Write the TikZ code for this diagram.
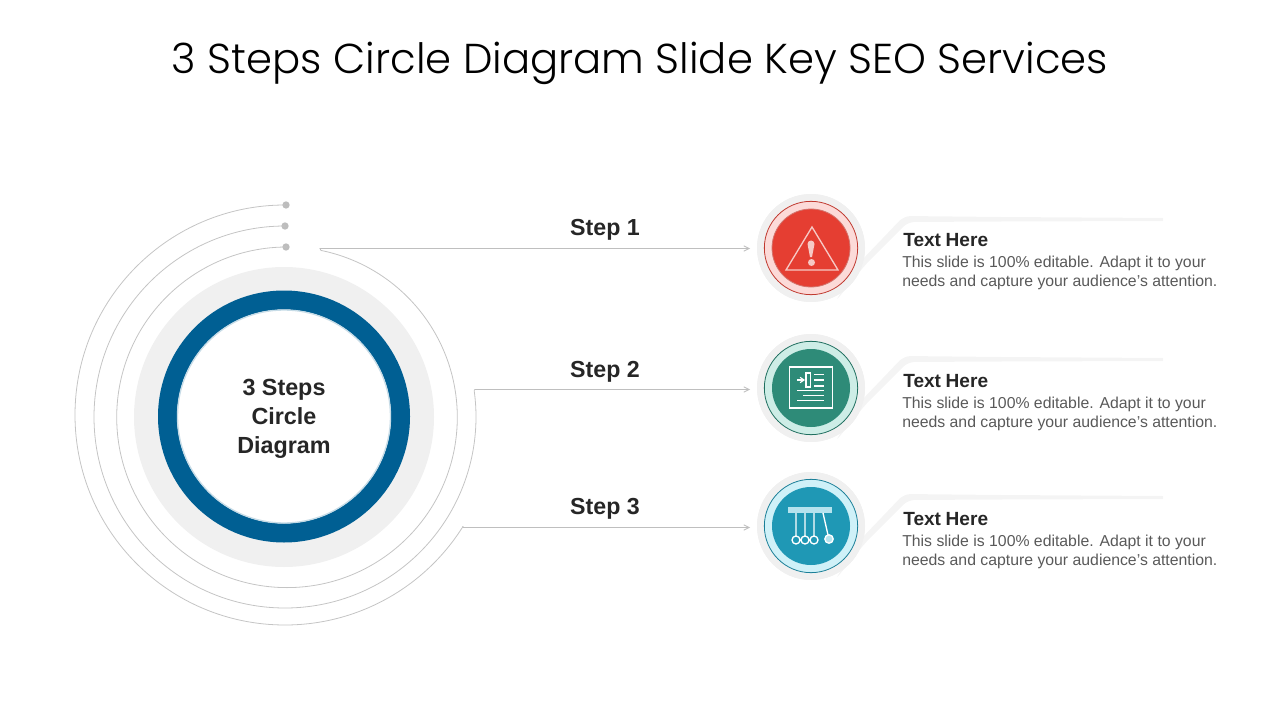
\documentclass[tikz,border=0pt]{standalone}
\usepackage{fontspec}
\setmainfont{Liberation Sans}
\newfontfamily\titlefont{Poppins Light}
\usetikzlibrary{arrows.meta}
\definecolor{arcgray}{HTML}{C4C4C4}
\definecolor{dotgray}{HTML}{BDBDBD}
\definecolor{halo}{HTML}{F0F0F0}
\definecolor{tailgray}{HTML}{F4F4F4}
\definecolor{ringblue}{HTML}{005F93}
\definecolor{inktext}{HTML}{262626}
\definecolor{bodytext}{HTML}{595959}
\definecolor{linegray}{HTML}{BFBFBF}
\definecolor{redfill}{HTML}{E53E32}
\definecolor{redpale}{HTML}{FCDAD8}
\definecolor{redline}{HTML}{C0392F}
\definecolor{redicon}{HTML}{F6C9C5}
\definecolor{greenfill}{HTML}{2E8B78}
\definecolor{greenpale}{HTML}{CDEDE6}
\definecolor{greenline}{HTML}{1F6F5F}
\definecolor{bluefill}{HTML}{1F98B5}
\definecolor{bluepale}{HTML}{CFF1F8}
\definecolor{blueline}{HTML}{1A7F98}
\definecolor{blueicon}{HTML}{B5E3EE}
\tikzset{
  x=0.75pt,y=-0.75pt,
  arcline/.style={draw=arcgray,line width=0.6pt},
  dotnode/.style={circle,fill=dotgray,inner sep=0pt,minimum size=5.5pt},
  haloD/.style={circle,fill=halo,inner sep=0pt,minimum size=81pt},
  paleD/.style={circle,draw=#1,line width=0.6pt,inner sep=0pt,minimum size=70pt},
  coreD/.style={circle,fill=#1,inner sep=0pt,minimum size=58.5pt},
  steplabel/.style={font=\bfseries\fontsize{17.4}{20}\selectfont,text=inktext,inner sep=0pt},
  headtext/.style={font=\bfseries\fontsize{14.3}{17}\selectfont,text=inktext,inner sep=0pt,anchor=west},
  bodylabel/.style={font=\fontsize{11.85}{14.3}\selectfont,text=bodytext,inner sep=0pt,anchor=north west,align=left},
  arrowline/.style={draw=linegray,line width=0.6pt,-{Straight Barb[length=4pt,width=4pt]}},
  callout/.style={fill=tailgray,draw=none},
  iconline/.style={draw=white,line width=1pt},
}
\begin{document}
\begin{tikzpicture}
\useasboundingbox (0,0) rectangle (1280,720);
\node[font=\titlefont\fontsize{31.33}{36}\selectfont,text=black,inner sep=0pt] (title) at (640,63) {3 Steps Circle Diagram Slide Key SEO Services};

% concentric arcs
\node[dotnode] (d1) at (286,205) {};
\node[dotnode] (d2) at (285,226) {};
\node[dotnode] (d3) at (286,247) {};
\draw[arcline] ([xshift=.75pt]d3.center) arc[start angle=-90,delta angle=-348.5,radius=170.3] coordinate (e1);
\draw[arcline] (d2.center) arc[start angle=-90,delta angle=-278,radius=191] coordinate (e2);
\draw[arcline] ([xshift=-.75pt]d1.center) arc[start angle=-90,delta angle=-238,radius=210] coordinate (e3);

% central disc
\node[circle,fill=halo,inner sep=0pt,minimum size=225pt] (discbg) at (284,417) {};
\node[circle,draw=ringblue,line width=14.25pt,inner sep=0pt,minimum size=174.75pt,fill=white] (ring) at (284,416.5) {};
\draw[draw=ringblue!22,line width=1pt] (ring.center) circle[radius=106.5];
\node[align=center,font=\bfseries\fontsize{17.5}{21.75}\selectfont,text=inktext,inner sep=0pt] (disctext) at (284,418.5) {3 Steps\\Circle\\Diagram};

% step arrows
\node[haloD] (h1) at (811,248) {};
\node[haloD] (h2) at (811,388) {};
\node[haloD] (h3) at (811,526) {};
\coordinate (a1) at (750,248.5);
\coordinate (a2) at (750,389.5);
\coordinate (a3) at (750,527.5);
\draw[arrowline] (e1) -- (320,248.5) -- (a1);
\draw[arrowline] (e2) -- (475,389.5) -- (a2);
\draw[arrowline] (e3) -- (463,527.5) -- (a3);
\node[steplabel] (s1) at (605,230) {Step 1};
\node[steplabel] (s2) at (605,372) {Step 2};
\node[steplabel] (s3) at (605,509) {Step 3};

% callout tails
\foreach \yy in {0,140,278}{
  \fill[callout,rounded corners=5pt] (835,\yy+302) -- (860,\yy+262) -- (904,\yy+216) -- (1000,\yy+217) [sharp corners] -- (1163,\yy+218) -- (1163,\yy+221) [rounded corners=5pt] -- (1000,\yy+221.5) -- (908,\yy+222) -- (866,\yy+264) -- cycle;
}
\node[haloD] at (811,248) {};
\node[haloD] at (811,388) {};
\node[haloD] at (811,526) {};

% red
\node[paleD=redline,fill=redpale] (p1) at (811,248) {};
\node[coreD=redfill,draw=redline!70,line width=.6pt] (c1) at (811,248) {};
\draw[draw=redicon,line width=1pt,line join=miter] (812,227) -- (838,270) -- (786,270) -- cycle;
\fill[redicon] (807.5,244) arc[start angle=180,end angle=360,radius=3.5] -- (812,257) -- (810,257) -- cycle;
\fill[redicon] (811.5,262.5) circle[radius=3.5];

% green
\node[paleD=greenline,fill=greenpale] (p2) at (811,388) {};
\node[coreD=greenfill] (c2) at (811,388) {};
\draw[iconline] (789.5,367) rectangle (832.5,408);
\draw[iconline,line width=.8pt,-{Straight Barb[length=3pt,width=4pt]}] (797,380) -- (805,380);
\draw[iconline] (806,373) rectangle (810.5,387);
\draw[iconline] (814,374.5) -- (824,374.5) (814,380) -- (824,380) (814,386) -- (824,386)
  (797,390.5) -- (824,390.5) (803,395.5) -- (824,395.5) (797,400.5) -- (824,400.5);

% blue
\node[paleD=blueline,fill=bluepale] (p3) at (811,526) {};
\node[coreD=bluefill] (c3) at (811,526) {};
\fill[blueicon] (788,507) rectangle (832,513);
\draw[iconline] (796,513) -- (796,536) (805,513) -- (805,536) (814,513) -- (814,536) (823,513) -- (828,535);
\draw[iconline] (796,540) circle[radius=4] (805,540) circle[radius=4] (814,540) circle[radius=4];
\draw[iconline,fill=blueicon] (829,539) circle[radius=4.2];

% captions
\node[headtext] (t1) at (903,240.5) {Text\hspace{3.5pt}Here};
\node[headtext] (t2) at (903,381.5) {Text\hspace{3.5pt}Here};
\node[headtext] (t3) at (903,519.5) {Text\hspace{3.5pt}Here};
\node[bodylabel] (b1) at (902,255.5) {This slide is 100\% editable. Adapt it to your\\needs and capture your audience's attention.};
\node[bodylabel] (b2) at (902,396.5) {This slide is 100\% editable. Adapt it to your\\needs and capture your audience's attention.};
\node[bodylabel] (b3) at (902,534.5) {This slide is 100\% editable. Adapt it to your\\needs and capture your audience's attention.};
\end{tikzpicture}
\end{document}
